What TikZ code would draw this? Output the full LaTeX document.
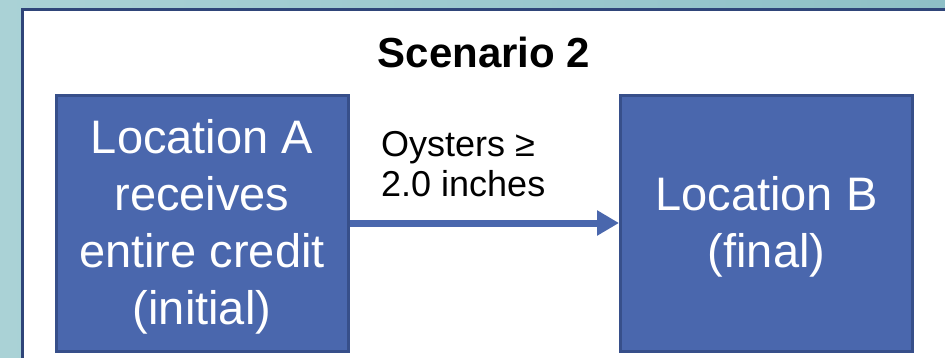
\documentclass[tikz,border=0pt]{standalone}
\usepackage{fontspec}
\setmainfont{Liberation Sans}
\usetikzlibrary{arrows.meta}
\definecolor{bgL}{HTML}{AAD2D6}
\definecolor{bgR}{HTML}{8EC0C7}
\definecolor{frameblue}{HTML}{2F4579}
\definecolor{boxfill}{HTML}{4A67AD}
\definecolor{boxedge}{HTML}{374F8A}
\tikzset{
  locbox/.style={draw=boxedge, line width=3pt, fill=boxfill,
    minimum width=292pt, minimum height=256pt, inner sep=0pt},
  boxtext/.style={text=white, align=center, inner sep=0pt, yshift=-4pt,
    font=\fontsize{47}{57}\selectfont},
  flowarrow/.style={draw=boxfill, line width=7pt,
    -{Triangle[length=22pt,width=24pt]}},
}
\begin{document}
\begin{tikzpicture}[x=1pt,y=1pt]
\useasboundingbox (0,0) rectangle (945,-357);
\shade[left color=bgL, right color=bgR] (0,0) rectangle (945,-357);
\fill[white] (22.5,-9) rectangle (950,-362);
\draw[frameblue, line width=3pt] (22.5,-362) -- (22.5,-9) -- (950,-9);
\node[font=\bfseries\fontsize{42}{50}\selectfont, anchor=base] (title) at (484,-67) {Scenario 2};
\node[locbox, label={[boxtext]center:{Location A\\receives\\entire credit\\(initial)}}] (A) at (202,-223) {};
\node[locbox, label={[boxtext]center:{Location B\\(final)}}] (B) at (766.5,-223) {};
\draw[flowarrow] (A.east) -- (B.west);
\node[anchor=base west, inner sep=0pt, align=left, font=\fontsize{36}{40}\selectfont] (lbl) at (381,-196) {Oysters ≥\\2.0 inches};
\end{tikzpicture}
\end{document}
